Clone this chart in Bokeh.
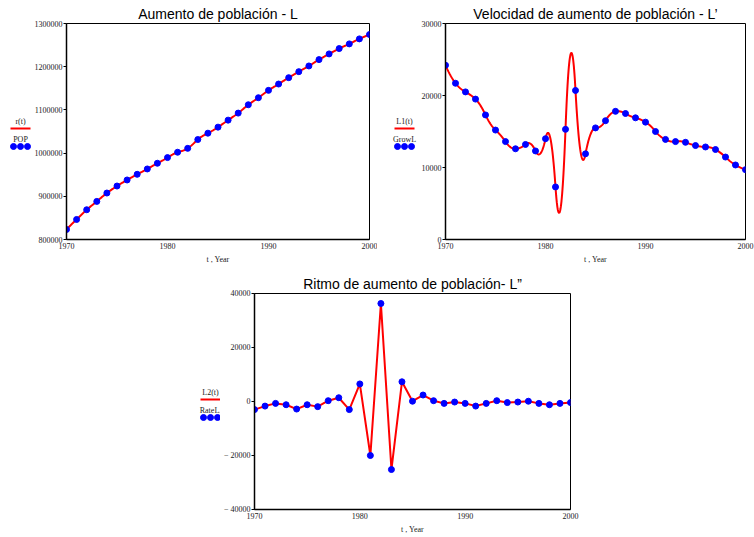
import numpy as np
from bokeh.plotting import figure
from bokeh.models import Range1d, FixedTicker, NumeralTickFormatter, Title, Spacer
from bokeh.core.properties import value
from bokeh.layouts import row, column
from bokeh.embed import file_html
from bokeh.resources import INLINE

# ---------------- data ----------------
years = list(range(1970, 2001))
pop = [823200, 846400, 868900, 888200, 907600, 923800, 937800, 950900, 963300, 976500,
       989600, 1002000, 1011000, 1031400, 1046100, 1060100, 1076300, 1092600, 1111900, 1128200,
       1145200, 1159900, 1174600, 1188500, 1201700, 1216400, 1229600, 1242000, 1252800, 1264400,
       1274500]
grow = [24200, 21700, 20500, 19500, 17300, 15200, 13600, 12600, 13200, 12300,
        14000, 7300, 15300, 20700, 11900, 15500, 16500, 17800, 17500, 16900,
        16300, 15000, 13900, 13600, 13500, 13050, 12850, 12500, 11450, 10350,
        9700]
rate = [-3000, -1700, -700, -1200, -2800, -1200, -1900, 300, 1400, -3000,
        6500, -20000, 36300, -25200, 7300, 100, 2400, 300, -700, -200,
        -700, -1700, -700, 300, -400, -200, 100, -700, -1200, -700,
        -400]

titles = ["Aumento de población - L", "Velocidad de aumento de población - L\u2019",
          "Ritmo de aumento de población- L\u201d"]
curve_names = ["r(t)", "L1(t)", "L2(t)"]
point_names = ["POP", "GrowL", "RateL."]
x_label = "t , Year"
x_ticks = [1970, 1980, 1990, 2000]
y_ticks1 = [800000, 900000, 1000000, 1100000, 1200000, 1300000]
y_ticks2 = [0, 10000, 20000, 30000]
y_ticks3 = [-40000, -20000, 0, 20000, 40000]
y_overrides3 = {-40000: "\u2212 40000", -20000: "\u2212 20000"}

RED = "#ff0000"
BLUE = "#0000ff"
SERIF = "Liberation Serif"
SANS = "Liberation Sans"
TXT = "#222222"

N_SUB = 30  # samples per year for the smooth curves


def hermite_curve(x, y, dy):
    """r(t): cubic Hermite through values y with slopes dy at the nodes."""
    ts, vs = [], []
    for i in range(len(x) - 1):
        h = x[i + 1] - x[i]
        u = np.linspace(0, 1, N_SUB, endpoint=(i == len(x) - 2))
        h00 = 2 * u ** 3 - 3 * u ** 2 + 1
        h10 = u ** 3 - 2 * u ** 2 + u
        h01 = -2 * u ** 3 + 3 * u ** 2
        h11 = u ** 3 - u ** 2
        ts.append(x[i] + u * h)
        vs.append(h00 * y[i] + h10 * h * dy[i] + h01 * y[i + 1] + h11 * h * dy[i + 1])
    return np.concatenate(ts), np.concatenate(vs)


def quad_curve(x, y, d2):
    """L1(t): piecewise quadratic through y whose slope varies linearly with d2."""
    ts, vs = [], []
    for i in range(len(x) - 1):
        u = np.linspace(0, 1, N_SUB, endpoint=(i == len(x) - 2))
        ts.append(x[i] + u)
        vs.append(y[i] + (y[i + 1] - y[i]) * u + (d2[i + 1] - d2[i]) / 2 * (u ** 2 - u))
    return np.concatenate(ts), np.concatenate(vs)


def make_fig(width, height, bl, br, bt, bb, yr, yticks, title,
             xs_curve, ys_curve, ys_pts, overrides=None):
    p = figure(width=width, height=height, output_backend="svg", toolbar_location=None,
               x_range=Range1d(years[0], years[-1]), y_range=Range1d(*yr),
               min_border_left=bl, min_border_right=br, min_border_top=bt,
               min_border_bottom=bb)
    p.xgrid.grid_line_color = None
    p.ygrid.grid_line_color = None
    p.outline_line_color = "#000000"
    p.outline_line_width = 1
    p.background_fill_color = "white"
    p.border_fill_color = "white"

    p.xaxis.ticker = FixedTicker(ticks=x_ticks)
    p.yaxis.ticker = FixedTicker(ticks=yticks)
    p.yaxis.formatter = NumeralTickFormatter(format="0")
    if overrides:
        p.yaxis.major_label_overrides = overrides
    for ax in (p.xaxis, p.yaxis):
        ax.axis_line_color = "#000000"
        ax.axis_line_width = 1.5
        ax.major_tick_in = 0
        ax.minor_tick_line_color = None
        ax.major_label_text_font = SERIF
        ax.major_label_text_font_size = "8px"
        ax.major_label_text_color = TXT
    p.yaxis.major_tick_out = 3
    p.yaxis.major_label_standoff = 1
    p.xaxis.major_tick_out = 0
    p.xaxis.major_label_standoff = 3
    p.xaxis.axis_label = x_label
    p.xaxis.axis_label_text_font = SERIF
    p.xaxis.axis_label_text_font_size = "8px"
    p.xaxis.axis_label_text_font_style = "normal"
    p.xaxis.axis_label_text_color = TXT
    p.xaxis.axis_label_standoff = 3

    p.add_layout(Title(text=title, text_font=SANS, text_font_size="14px",
                       text_font_style="normal", align="center", standoff=3,
                       text_color="#000000"), "above")

    p.line(xs_curve, ys_curve, line_color=RED, line_width=2)
    p.scatter(years, ys_pts, size=6, fill_color=BLUE, line_color=BLUE)
    return p


def make_legend(width, height, bt, bb, cx, y_top, cname, pname):
    # small figure whose coordinates are its own canvas pixels (y downward);
    # its frame is aligned with the neighbouring plot's frame
    lg = figure(width=width, height=height, output_backend="svg", toolbar_location=None,
                x_range=Range1d(0, width), y_range=Range1d(height - bb, bt),
                min_border_left=0, min_border_right=0, min_border_top=bt,
                min_border_bottom=bb, outline_line_color=None)
    lg.axis.visible = False
    lg.grid.visible = False
    lg.text(x=[cx], y=[y_top], text=[cname], text_font=value(SERIF),
            text_font_size="8px", text_align="center", text_baseline="middle",
            text_color=TXT)
    lg.line(x=[cx - 10, cx + 10], y=[y_top + 7, y_top + 7], line_color=RED, line_width=2)
    lg.text(x=[cx], y=[y_top + 18], text=[pname], text_font=value(SERIF),
            text_font_size="8px", text_align="center", text_baseline="middle",
            text_color=TXT)
    lg.scatter(x=[cx - 7, cx, cx + 7], y=[y_top + 25] * 3, size=6,
               fill_color=BLUE, line_color=BLUE)
    return lg


r_tx, r_ty = hermite_curve(years, pop, grow)
l1_tx, l1_ty = quad_curve(years, grow, rate)

TOP_H = 266
BOT_H = 271
p1 = make_fig(346, TOP_H, 33, 8, 23, 27, (800000, 1300000), y_ticks1, titles[0],
              r_tx, r_ty, pop)
p2 = make_fig(336, TOP_H, 26, 9, 23, 27, (0, 30000), y_ticks2, titles[1],
              l1_tx, l1_ty, grow)
p3 = make_fig(360, BOT_H, 33, 10, 27, 28, (-40000, 40000), y_ticks3, titles[2],
              years, rate, rate, overrides=y_overrides3)

leg1 = make_legend(31, TOP_H, 23, 27, 20, 121, curve_names[0], point_names[0])
leg2 = make_legend(41, TOP_H, 23, 27, 27, 121, curve_names[1], point_names[1])
leg3 = make_legend(30, BOT_H, 27, 28, 20, 126, curve_names[2], point_names[2])

layout = column(row(leg1, p1, leg2, p2),
                row(Spacer(width=190, height=BOT_H), leg3, p3))

open("out.html", "w").write(file_html(layout, INLINE))
